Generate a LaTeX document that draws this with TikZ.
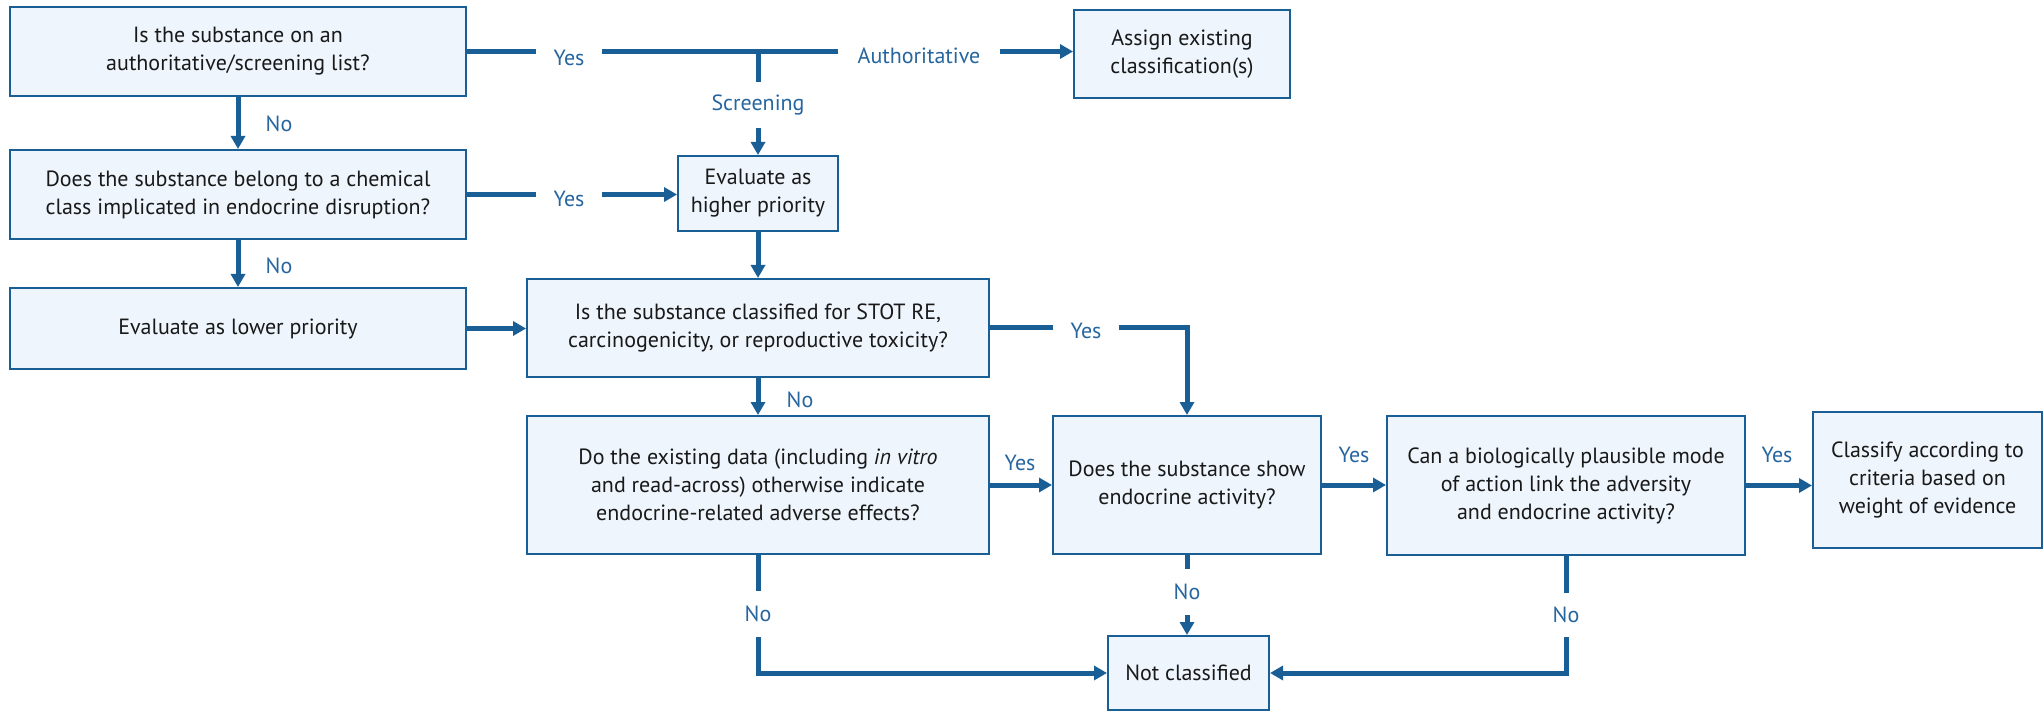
\documentclass[tikz,border=0pt]{standalone}
\usepackage{fontspec}
\setmainfont{PT Sans}
\usetikzlibrary{arrows.meta}
\definecolor{flowblue}{RGB}{26,94,150}
\definecolor{lblblue}{RGB}{38,101,158}
\definecolor{boxfill}{RGB}{238,245,252}
\begin{document}
\begin{tikzpicture}[x=1pt,y=-1pt,
  box/.style={draw=flowblue, line width=2pt, fill=boxfill, align=center,
    font=\fontsize{22}{28}\selectfont, text=black!90, inner sep=0pt},
  lbl/.style={text=lblblue, font=\fontsize{22}{26}\selectfont, inner sep=0pt},
  flow/.style={draw=flowblue, line width=5pt},
  arr/.style={flow, -{Triangle[length=13pt,width=14pt]}},
]
\useasboundingbox (0,0) rectangle (2043,711);

% decision and action boxes
\node[box, minimum width=456, minimum height=89] (q1) at (238,51.5)
  {Is the substance on an\\authoritative/screening list?};
\node[box, minimum width=216, minimum height=88] (assign) at (1182,54)
  {Assign existing\\classification(s)};
\node[box, minimum width=456, minimum height=89] (q2) at (238,194.5)
  {Does the substance belong to a chemical\\class implicated in endocrine disruption?};
\node[box, minimum width=160, minimum height=75] (higher) at (758,193.5)
  {Evaluate as\\higher priority};
\node[box, minimum width=456, minimum height=81] (lower) at (238,328.5)
  {Evaluate as lower priority};
\node[box, minimum width=462, minimum height=98] (stot) at (758,328)
  {Is the substance classified for STOT RE,\\carcinogenicity, or reproductive toxicity?};
\node[box, minimum width=462, minimum height=138] (doex) at (758,485)
  {Do the existing data (including \textit{in vitro}\\and read-across) otherwise indicate\\endocrine-related adverse effects?};
\node[box, minimum width=268, minimum height=138] (show) at (1187,485)
  {Does the substance show\\endocrine activity?};
\node[box, minimum width=358, minimum height=139] (can) at (1566,485.5)
  {Can a biologically plausible mode\\of action link the adversity\\and endocrine activity?};
\node[box, minimum width=229, minimum height=136] (classify) at (1927.5,480)
  {Classify according to\\criteria based on\\weight of evidence};
\node[box, minimum width=161, minimum height=74] (notc) at (1188.5,673)
  {Not classified};

% connector labels
\node[lbl, minimum width=66] (yesA) at (569,58) {Yes};
\node[lbl, minimum width=162] (auth) at (919,56) {Authoritative};
\node[lbl, minimum height=45] (scr) at (758,105) {Screening};
\node[lbl, minimum width=66] (yesB) at (569,199) {Yes};
\node[lbl] (noA) at (279,124) {No};
\node[lbl] (noB) at (279,266) {No};
\node[lbl, minimum width=66] (yesC) at (1086,331) {Yes};
\node[lbl] (noC) at (800,400) {No};
\node[lbl] (yesD) at (1020,463) {Yes};
\node[lbl] (yesE) at (1354,455) {Yes};
\node[lbl] (yesF) at (1777,455) {Yes};
\node[lbl, minimum height=46] (noD) at (758,614) {No};
\node[lbl, minimum height=46] (noE) at (1187,592) {No};
\node[lbl, minimum height=44] (noF) at (1566,615) {No};
\coordinate (split) at (758,51.5);

% connectors
\draw[flow] (q1.east) -- (q1.east -| yesA.west);
\draw[flow] (q1.east -| yesA.east) -- (q1.east -| auth.west);
\draw[arr] (q1.east -| auth.east) -- (q1.east -| assign.west);
\draw[flow] (split) -- (split |- scr.north);
\draw[arr] (scr.south) -- (higher.north);
\draw[arr] (q1.south) -- (q2.north);
\draw[flow] (q2.east) -- (q2.east -| yesB.west);
\draw[arr] (q2.east -| yesB.east) -- (q2.east -| higher.west);
\draw[arr] (q2.south) -- (lower.north);
\draw[arr] (lower.east) -- (lower.east -| stot.west);
\draw[arr] (higher.south) -- (stot.north);
\draw[flow] (stot.east) -- (stot.east -| yesC.west);
\draw[arr] (stot.east -| yesC.east) -| (show.north);
\draw[arr] (stot.south) -- (doex.north);
\draw[arr] (doex.east) -- (show.west);
\draw[arr] (show.east) -- (show.east -| can.west);
\draw[arr] (can.east) -- (can.east -| classify.west);
\draw[flow] (doex.south) -- (noD.north);
\draw[arr] (noD.south) |- (notc.west);
\draw[flow] (show.south) -- (noE.north);
\draw[arr] (noE.south) -- (noE.south |- notc.north);
\draw[flow] (can.south) -- (noF.north);
\draw[arr] (noF.south) |- (notc.east);
\end{tikzpicture}
\end{document}
